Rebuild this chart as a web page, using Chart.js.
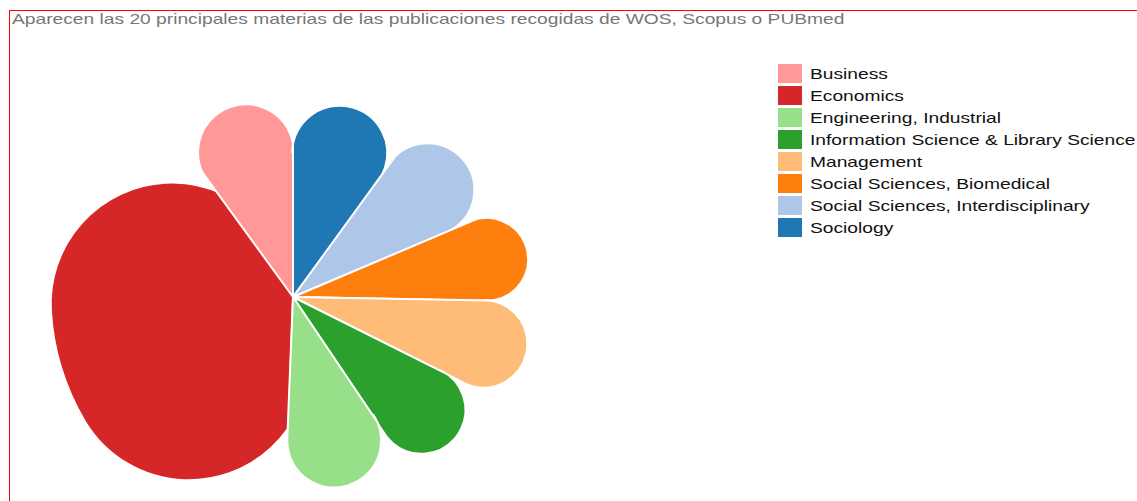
<!DOCTYPE html>
<html>
<head>
<meta charset="utf-8">
<script src="https://cdn.jsdelivr.net/npm/chart.js@4"></script>
<style>
  html, body { margin: 0; padding: 0; background: #fff; overflow: hidden; }
  body { width: 1137px; height: 501px; position: relative; font-family: "Liberation Sans", Arial, sans-serif; }
  #frame { position: absolute; left: 9px; top: 10px; width: 1200px; height: 600px; border: 1px solid #ff0000; }
  #title { position: absolute; left: 12px; top: 10px; font-size: 15px; color: #777; white-space: nowrap;
           transform: scaleX(1.28); transform-origin: 0 0; }
  #chart-wrap { position: absolute; left: 0; top: 47px; width: 586px; height: 500px; }
  #legend { position: absolute; left: 778px; top: 64px; }
  .legend-row { display: flex; align-items: center; height: 19px; margin-bottom: 3px; white-space: nowrap; }
  .legend-box { width: 24px; height: 19px; margin-right: 8px; flex: none; }
  .legend-text { font-size: 15px; color: #111; display: inline-block; transform: scaleX(1.28); transform-origin: 0 50%; }
</style>
</head>
<body>
<div id="frame"></div>
<div id="title">Aparecen las 20 principales materias de las publicaciones recogidas de WOS, Scopus o PUBmed</div>
<div id="chart-wrap"><canvas id="chart-petals"></canvas></div>
<div id="legend"></div>

<script>
// Petals, clockwise starting just left of the bottom (Economics first so neighbours draw over it)
const subjects = [
  'Economics',
  'Business',
  'Sociology',
  'Social Sciences, Interdisciplinary',
  'Social Sciences, Biomedical',
  'Management',
  'Information Science & Library Science',
  'Engineering, Industrial'
];
// width of each petal (degrees of the circle)
const petalAngle = [142, 36, 36, 31, 24, 25.6, 29.4, 36];
// length of each petal (0-100)
const petalLength = [97, 80, 79.5, 87.5, 95.5, 96, 86, 78.5];

const petalColors = ['#d62728', '#ff9896', '#1f77b4', '#aec7e8', '#ff7f0e', '#ffbb78', '#2ca02c', '#98df8a'];

// round cap that just fits the slice -> teardrop petal
function capRadius(c) {
  const scale = c.chart.scales.r;
  if (!scale) return 0;
  const R = scale.getDistanceFromCenterForValue(petalLength[c.dataIndex]);
  const half = petalAngle[c.dataIndex] * Math.PI / 360;
  return Math.min(R / 2, R * half / (1 + half)) * 0.999;
}

const ctx = document.getElementById('chart-petals').getContext('2d');

const petalChart = new Chart(ctx, {
  type: 'polarArea',
  data: {
    labels: subjects,
    datasets: [{
      data: petalLength,
      backgroundColor: petalColors,
      borderColor: '#fff',
      borderWidth: 2,
      borderRadius: capRadius,
      angle: (c) => petalAngle[c.dataIndex]
    }]
  },
  options: {
    responsive: true,
    maintainAspectRatio: false,
    animation: false,
    layout: { padding: 0 },
    plugins: {
      legend: { display: false },
      tooltip: { enabled: false }
    },
    scales: {
      r: {
        display: false,
        min: 0,
        max: 100,
        startAngle: 182
      }
    }
  }
});

// Legend on the right, alphabetical like the original
const items = petalChart.options.plugins.legend.labels.generateLabels(petalChart)
  .sort((a, b) => a.text.localeCompare(b.text));

document.getElementById('legend').innerHTML = items.map(it => `
  <div class="legend-row">
    <span class="legend-box" style="background:${it.fillStyle}"></span>
    <span class="legend-text">${it.text.replace(/&/g, '&amp;')}</span>
  </div>`).join('');
</script>
</body>
</html>
